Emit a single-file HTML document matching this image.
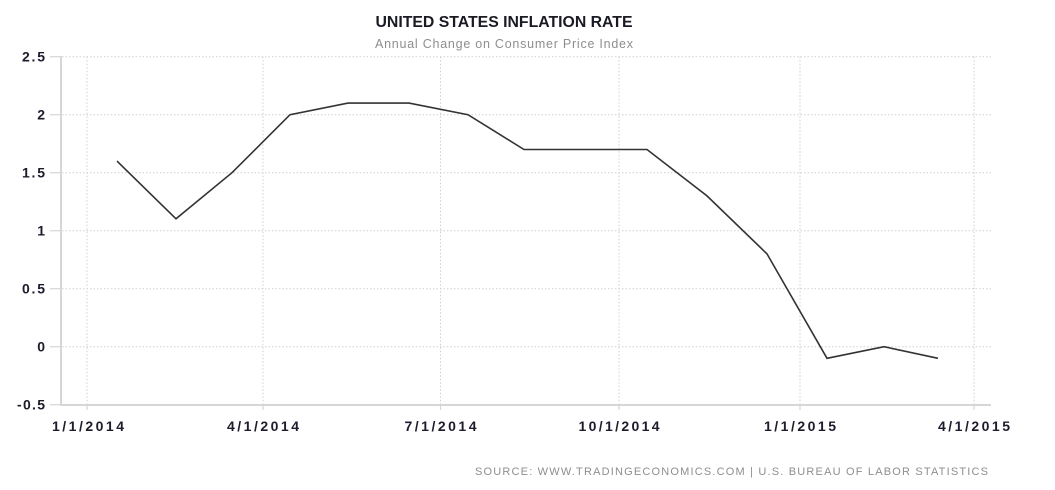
<!DOCTYPE html>
<html>
<head>
<meta charset="utf-8">
<style>
  html, body { margin: 0; padding: 0; background: #ffffff; }
  svg { display: block; }
</style>
</head>
<body>
<svg width="1055" height="490" viewBox="0 0 1055 490" xmlns="http://www.w3.org/2000/svg" font-family="'Liberation Sans', 'DejaVu Sans', sans-serif">
  <rect x="0" y="0" width="1055" height="490" fill="#ffffff"/>

  <!-- Title -->
  <text x="504" y="27" text-anchor="middle" font-size="15.5" font-weight="bold" fill="#1a1a24" textLength="257" lengthAdjust="spacingAndGlyphs">UNITED STATES INFLATION RATE</text>
  <text x="504" y="48" text-anchor="middle" font-size="12.5" fill="#8e8e8e" textLength="258" lengthAdjust="spacing">Annual Change on Consumer Price Index</text>

  <!-- Horizontal dotted gridlines -->
  <g stroke="#cfcfcf" stroke-width="1" stroke-dasharray="1.5,2">
    <line x1="62" y1="56.7" x2="991" y2="56.7"/>
    <line x1="62" y1="114.7" x2="991" y2="114.7"/>
    <line x1="62" y1="172.7" x2="991" y2="172.7"/>
    <line x1="62" y1="230.7" x2="991" y2="230.7"/>
    <line x1="62" y1="288.7" x2="991" y2="288.7"/>
    <line x1="62" y1="346.7" x2="991" y2="346.7"/>
  </g>
  <!-- Vertical dotted gridlines -->
  <g stroke="#cfcfcf" stroke-width="1" stroke-dasharray="1.5,2">
    <line x1="87" y1="56.7" x2="87" y2="404"/>
    <line x1="263" y1="56.7" x2="263" y2="404"/>
    <line x1="440.5" y1="56.7" x2="440.5" y2="404"/>
    <line x1="619" y1="56.7" x2="619" y2="404"/>
    <line x1="800" y1="56.7" x2="800" y2="404"/>
    <line x1="974" y1="56.7" x2="974" y2="404"/>
  </g>

  <!-- Axes -->
  <g stroke="#d6d6d6" stroke-width="2">
    <line x1="61" y1="56" x2="61" y2="406"/>
    <line x1="60" y1="405" x2="991" y2="405"/>
  </g>
  <!-- Y ticks -->
  <g stroke="#d6d6d6" stroke-width="1.2">
    <line x1="50" y1="56.7" x2="61" y2="56.7"/>
    <line x1="50" y1="114.7" x2="61" y2="114.7"/>
    <line x1="50" y1="172.7" x2="61" y2="172.7"/>
    <line x1="50" y1="230.7" x2="61" y2="230.7"/>
    <line x1="50" y1="288.7" x2="61" y2="288.7"/>
    <line x1="50" y1="346.7" x2="61" y2="346.7"/>
    <line x1="50" y1="404.7" x2="61" y2="404.7"/>
  </g>
  <!-- X ticks -->
  <g stroke="#d6d6d6" stroke-width="1.2">
    <line x1="87" y1="405" x2="87" y2="410"/>
    <line x1="263" y1="405" x2="263" y2="410"/>
    <line x1="440.5" y1="405" x2="440.5" y2="410"/>
    <line x1="619" y1="405" x2="619" y2="410"/>
    <line x1="800" y1="405" x2="800" y2="410"/>
    <line x1="974" y1="405" x2="974" y2="410"/>
  </g>

  <!-- Y labels -->
  <g font-size="14" font-weight="bold" fill="#1c1c2c" text-anchor="end">
    <text x="45" y="61.7" textLength="23" lengthAdjust="spacing">2.5</text>
    <text x="45" y="119.7">2</text>
    <text x="45" y="177.7" textLength="23" lengthAdjust="spacing">1.5</text>
    <text x="45" y="235.7">1</text>
    <text x="45" y="293.7" textLength="23" lengthAdjust="spacing">0.5</text>
    <text x="45" y="351.7">0</text>
    <text x="45" y="409.7" textLength="28" lengthAdjust="spacing">-0.5</text>
  </g>

  <!-- X labels -->
  <g font-size="14" font-weight="bold" fill="#1c1c2c">
    <text x="52" y="431" textLength="72" lengthAdjust="spacing">1/1/2014</text>
    <text x="227" y="431" textLength="72" lengthAdjust="spacing">4/1/2014</text>
    <text x="404.5" y="431" textLength="72" lengthAdjust="spacing">7/1/2014</text>
    <text x="578.5" y="431" textLength="81" lengthAdjust="spacing">10/1/2014</text>
    <text x="764" y="431" textLength="72" lengthAdjust="spacing">1/1/2015</text>
    <text x="938" y="431" textLength="72" lengthAdjust="spacing">4/1/2015</text>
  </g>

  <!-- Data line -->
  <polyline fill="none" stroke="#333333" stroke-width="1.6" stroke-linejoin="miter"
    points="117,161.1 176,218.8 232,172.7 290,114.7 348,103.1 409,103.1 468,114.7 524,149.5 588,149.5 647,149.5 707,195.9 767,253.9 827,358.3 884,346.7 938,358.3"/>

  <!-- Source -->
  <text x="475" y="475" font-size="11" fill="#8e8e8e" textLength="513" lengthAdjust="spacing">SOURCE: WWW.TRADINGECONOMICS.COM | U.S. BUREAU OF LABOR STATISTICS</text>
</svg>
</body>
</html>
